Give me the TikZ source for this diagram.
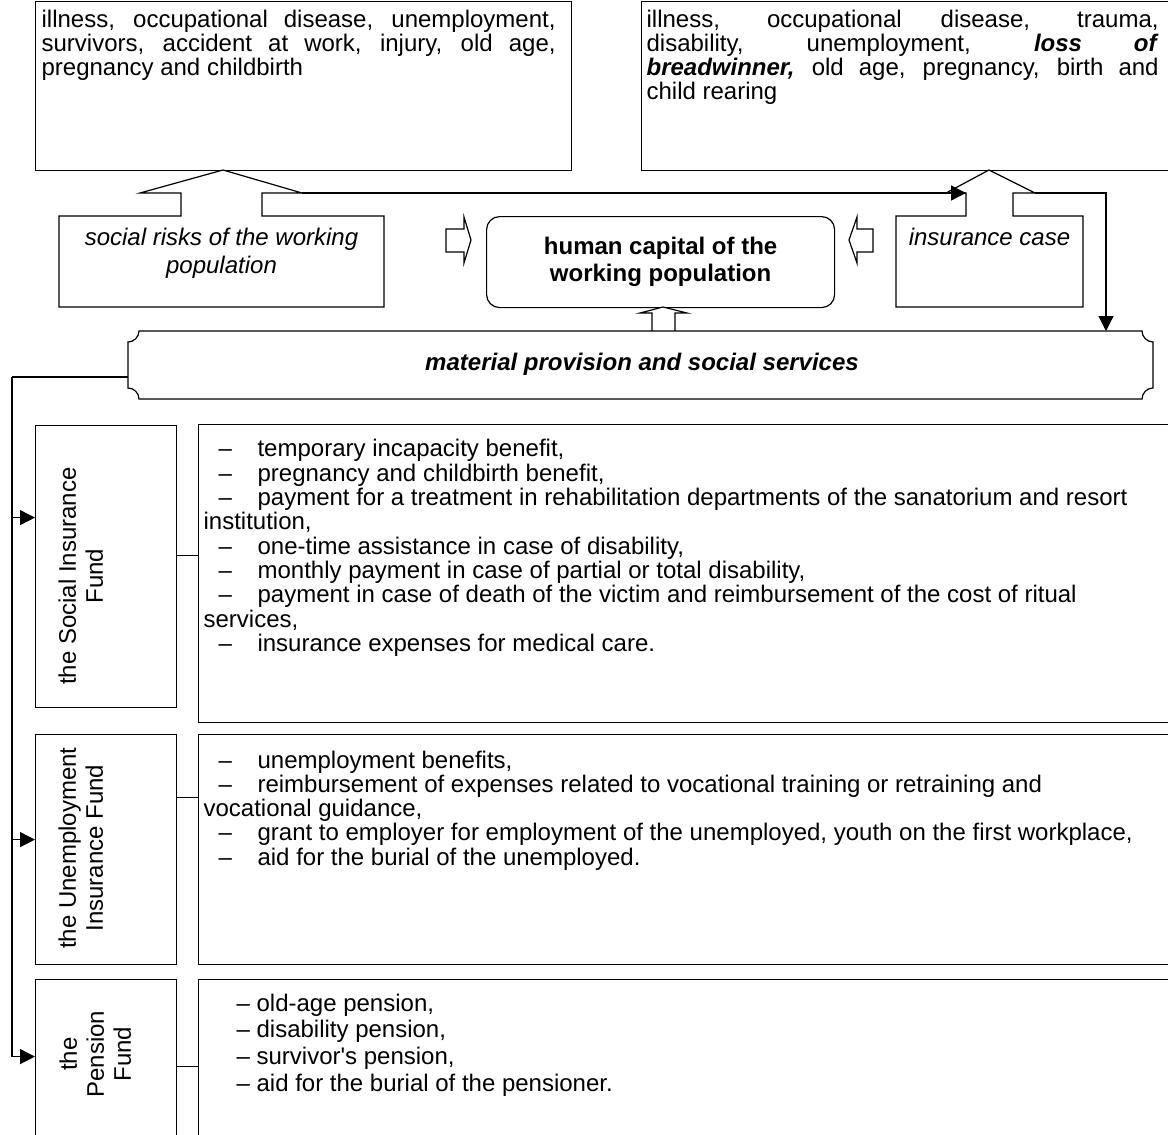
\documentclass[tikz,border=0pt]{standalone}
\usepackage{fontspec}
\setmainfont{Liberation Sans}[Ligatures=TeXOff]
\usetikzlibrary{arrows.meta,calc}
\tikzset{panel/.style={draw, fill=white, inner sep=0pt, anchor=north west},
         txt/.style={inner sep=0pt, anchor=north west, align=left,
                     font=\fontsize{12}{12.15}\selectfont},
         link/.style={-{Triangle[length=7.5pt,width=7.5pt]}},
         blockarrow/.style={draw, fill=white},
         fundlabel/.style={rotate=90, anchor=north, align=center, inner sep=0pt,
                           font=\fontsize{12}{13.5}\selectfont}}
\newcommand\benefit[1]{\hspace*{7.5pt}\makebox[19.5pt][l]{–}#1}

\begin{document}
\begin{tikzpicture}[x=0.5pt,y=-0.5pt,line width=0.6pt,font=\fontsize{12}{13.5}\selectfont]
  \useasboundingbox (0,0) rectangle (1168,1135);
  \clip (0,0) rectangle (1168,1135);
  % risks and cases
  \node[panel, minimum width=268pt, minimum height=84.5pt] (risklist) at (35,1) {};
  \node[txt, text width=257pt, align=justify, font=\fontsize{12}{11.9}\selectfont] (risktext) at (41,10)
    {illness, occupational disease, unemployment,\linebreak survivors, accident at work, injury, old age,\linebreak pregnancy and childbirth};
  \node[panel, minimum width=275pt, minimum height=84.5pt] (caselist) at (641,1) {};
  \node[txt, text width=256pt, align=justify, font=\fontsize{12}{11.9}\selectfont] (casetext) at (646,10)
    {illness, occupational disease, trauma,\linebreak disability, unemployment, \textbf{\textit{loss of}}\linebreak
     \textbf{\textit{breadwinner,}} old age, pregnancy, birth and\linebreak child rearing};
  % callouts
  \draw[blockarrow] (59,216) -- (181,216) -- (181,193) -- (140,193) -- (223,170) -- (302,193) -- (262,193)
    -- (262,216) -- (384,216) -- (384,307) -- (59,307) -- cycle;
  \coordinate (riskhead) at (302,193);
  \node[anchor=north, align=center, inner sep=0pt, font=\itshape\fontsize{12}{14}\selectfont] (risks) at (221.5,228)
    {social risks of the working\\population};
  \draw[blockarrow] (896,216) -- (966,216) -- (966,193) -- (946,193) -- (989,170) -- (1035,193) -- (1013,193)
    -- (1013,216) -- (1083,216) -- (1083,307) -- (896,307) -- cycle;
  \coordinate (casefoot) at (966,193);
  \coordinate (casehead) at (1035,193);
  \node[anchor=base, inner sep=0pt, font=\itshape\fontsize{12}{14}\selectfont] (insurance) at (989.5,245) {insurance case};
  \node[draw, rounded corners=6.5pt, minimum width=174pt, minimum height=45.5pt, anchor=north west,
        inner sep=0pt, align=center, font=\bfseries\fontsize{12}{13.5}\selectfont] (capital) at (486,216)
    {human capital of the\\working population};
  % block arrows
  \draw[blockarrow] (446,229) -- (464,229) -- (464,217) -- (471,240) -- (464,263) -- (464,252) -- (446,252) -- cycle;
  \draw[blockarrow] (873,229) -- (857,229) -- (857,217) -- (849,240) -- (857,263) -- (857,252) -- (873,252) -- cycle;
  \draw[blockarrow] (652,331) -- (652,313) -- (640,313) -- (663,307) -- (687,313) -- (675,313) -- (675,331);
  % material provision
  \draw[fill=white] (139,331) -- (1142,331) .. controls (1142,337) and (1147,342) .. (1153,342) -- (1153,388)
    .. controls (1147,388) and (1142,393) .. (1142,399) -- (139,399) .. controls (139,393) and (134,388) .. (128,388)
    -- (128,342) .. controls (134,342) and (139,337) .. (139,331) -- cycle;
  \node[anchor=base, inner sep=0pt, font=\bfseries\itshape\fontsize{12}{14}\selectfont] (material) at (642,370)
    {material provision and social services};
  \coordinate (matin) at (1106,331);
  \coordinate (matleft) at (128,377);
  \coordinate (trunktop) at (12,377);
  \draw[link] (casefoot -| riskhead) -- (casefoot);
  \draw[link] (casehead) -| (matin);
  % funds
  \node[panel, minimum width=70.5pt, minimum height=141pt] (sif) at (35,425) {};
  \node[panel, minimum width=496pt, minimum height=149pt] (sil) at (198,424) {};
  \node[panel, minimum width=70.5pt, minimum height=115pt] (uif) at (35,734) {};
  \node[panel, minimum width=496pt, minimum height=115pt] (uil) at (198,734) {};
  \node[panel, minimum width=70.5pt, minimum height=87pt] (pf) at (35,979) {};
  \node[panel, minimum width=496pt, minimum height=87pt] (pfl) at (198,979) {};
  \node[fundlabel] (sift) at (58,576) {the Social Insurance\\Fund};
  \node[fundlabel] (uift) at (58,848) {the Unemployment\\Insurance Fund};
  \node[fundlabel] (pft) at (59,1054) {the\\Pension\\Fund};
  \draw (matleft) -- (trunktop);
  \foreach \f/\dy in {sif/-49,uif/-10,pf/-10}
    \draw[link] (trunktop) |- ($(\f.west)+(0,\dy)$);
  \foreach \f/\l/\dy in {sif/sil/-11,uif/uil/-52,pf/pfl/0}
    \draw ($(\f.east)+(0,\dy)$) coordinate (c) -- (c -| \l.west);
  % benefits
  \node[txt] (sitext) at (203,439)
    {\benefit{temporary incapacity benefit,}\\
     \benefit{pregnancy and childbirth benefit,}\\
     \benefit{payment for a treatment in rehabilitation departments of the sanatorium and resort}\\
     institution,\\
     \benefit{one-time assistance in case of disability,}\\
     \benefit{monthly payment in case of partial or total disability,}\\
     \benefit{payment in case of death of the victim and reimbursement of the cost of ritual}\\
     services,\\
     \benefit{insurance expenses for medical care.}};
  \node[txt] (uitext) at (203,750)
    {\benefit{unemployment benefits,}\\
     \benefit{reimbursement of expenses related to vocational training or retraining and}\\
     vocational guidance,\\
     \benefit{grant to employer for employment of the unemployed, youth on the first workplace,}\\
     \benefit{aid for the burial of the unemployed.}};
  \node[txt, font=\fontsize{12}{13.35}\selectfont] (ptext) at (236,993)
    {– old-age pension,\\
     – disability pension,\\
     – survivor's pension,\\
     – aid for the burial of the pensioner.};
\end{tikzpicture}
\end{document}
